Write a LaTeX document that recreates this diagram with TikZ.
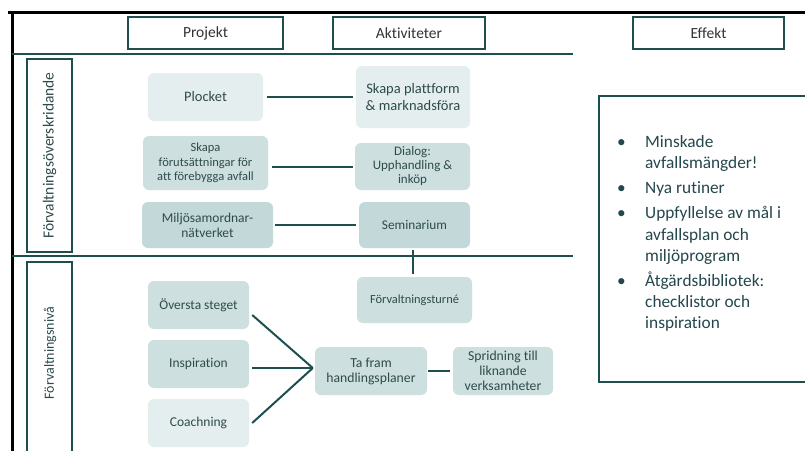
\documentclass[tikz,border=0pt]{standalone}
\usepackage{fontspec}
\setmainfont{Carlito}[Ligatures=NoCommon]
\usetikzlibrary{calc}
\definecolor{teal1}{HTML}{1F4E4F}
\definecolor{fillA}{HTML}{E4EEEE}
\definecolor{fillB}{HTML}{CDDFDF}
\definecolor{fillC}{HTML}{C3D8D8}
\definecolor{txt}{HTML}{2E4B4B}
\definecolor{efftxt}{HTML}{24474D}
\newcommand{\fs}[2]{\fontsize{#1}{#2}\selectfont}
\begin{document}
\begin{tikzpicture}[x=1pt,y=-1pt,
  box/.style={rounded corners=6pt, inner sep=2pt, align=center, text=txt},
  hdr/.style={draw=teal1, line width=1.8pt, fill=white, minimum height=32pt,
    align=center, text=black!80, font=\fs{15.5}{17}},
  conn/.style={draw=teal1, line width=2pt},
  blackframe/.style={draw=black, line width=3pt},
  tealline/.style={draw=teal1, line width=2pt},
  lbl/.style={draw=teal1, line width=1.8pt}
]
\useasboundingbox (0,0) rectangle (805,450);
\fill[white] (0,0) rectangle (805,450);

% frame lines
\coordinate (tl) at (12,12);
\coordinate (tr) at (805,12);
\coordinate (bl) at (12,452);
\draw[blackframe] (8,12) -- (tr);
\draw[blackframe] (tl) -- (bl);

% teal separators
\coordinate (s1a) at (12,54);
\coordinate (s1b) at (573,54);
\coordinate (s2a) at (12,256);
\coordinate (s2b) at (573,256);
\draw[tealline] (s1a) -- (s1b);
\draw[tealline] (s2a) -- (s2b);

% headers
\node[hdr, minimum width=155pt] (hproj) at (205.5,33) {Projekt};
\node[hdr, minimum width=152pt] (hakt) at (409,33) {Aktiviteter};
\node[hdr, minimum width=151pt] (heff) at (708.5,33) {Effekt};

% left label boxes
\node[lbl, minimum width=45pt, minimum height=193pt, inner sep=0pt] (lup) at (49.5,155.5) {};
\node[rotate=90, text=txt, font=\fs{15.5}{17}] (lupt) at (lup.center) {Förvaltningsöverskridande};
\draw[lbl] (27,470) -- (27,262) -- (72,262) -- (72,470);
\node[rotate=90, text=txt, font=\fs{14}{16}] (llowt) at (50,353) {Förvaltningsnivå};

% upper boxes
\node[box, fill=fillA, minimum width=115pt, minimum height=48pt, font=\fs{14.5}{17}] (plocket) at (205.5,97) {Plocket};
\node[box, fill=fillA, minimum width=114pt, minimum height=62pt, font=\fs{14.5}{17.5}] (plattform) at (413,97) {Skapa plattform\\\& marknadsföra};
\node[box, fill=fillB, minimum width=125pt, minimum height=54pt, font=\fs{12.5}{14.5}] (skapa) at (205.5,163) {Skapa\\förutsättningar för\\att förebygga avfall};
\node[box, fill=fillB, minimum width=115pt, minimum height=47pt, font=\fs{13}{14}] (dialog) at (412.5,166.5) {Dialog:\\Upphandling \&\\inköp};
\node[box, fill=fillC, minimum width=131pt, minimum height=46pt, font=\fs{13.5}{15}] (miljo) at (207.5,225) {Miljösamordnar-\\nätverket};
\node[box, fill=fillC, minimum width=111pt, minimum height=46pt, font=\fs{13.3}{15}] (semi) at (414.5,225) {Seminarium};

% lower boxes
\node[box, fill=fillB, minimum width=115pt, minimum height=46pt, font=\fs{12.4}{14}] (turne) at (414.5,300) {Förvaltningsturné};
\node[box, fill=fillB, minimum width=101pt, minimum height=48pt, font=\fs{13.4}{15}] (over) at (198.5,305) {Översta steget};
\node[box, fill=fillB, minimum width=101pt, minimum height=48pt, font=\fs{13.5}{15}] (insp) at (198.5,364) {Inspiration};
\node[box, fill=fillA, minimum width=101pt, minimum height=48pt, font=\fs{13.5}{15}] (coach) at (198.5,423) {Coachning};
\node[box, fill=fillB, minimum width=112pt, minimum height=48pt, font=\fs{13.7}{15}] (tafram) at (371,371) {Ta fram\\handlingsplaner};
\node[box, fill=fillB, minimum width=100pt, minimum height=48pt, font=\fs{13.7}{15}] (sprid) at (503,371) {Spridning till\\liknande\\verksamheter};

% connectors
\draw[conn, shorten <=4pt, shorten >=3pt] (plocket.east) -- (plattform.west);
\draw[conn, shorten <=4pt, shorten >=2pt] (skapa.east |- dialog.west) -- (dialog.west);
\draw[conn, shorten <=2pt, shorten >=3pt] (miljo.east) -- (semi.west);
\draw[conn] ($(semi.south)+(-1.5,2)$) -- ($(turne.north)+(-1.5,-3)$);
\coordinate (fan) at ($(tafram.west)+(-2,-3)$);
\draw[conn] ($(over.east)+(3,10)$) -- (fan);
\draw[conn] ($(insp.east)+(3,4)$) -- (fan);
\draw[conn] ($(coach.east)+(3,0)$) -- (fan);
\draw[conn, shorten <=1pt, shorten >=3pt] (tafram.east) -- (sprid.west);

% effect box
\draw[lbl] (820,96) -- (599,96) -- (599,382) -- (820,382);
\node[anchor=north west, text=efftxt, align=left, inner sep=0pt,
  font=\fs{17.3}{21.2}] (eff) at (617,135) {%
  \makebox[28pt][l]{\textbullet}Minskade\\
  \makebox[28pt][l]{}avfallsmängder!\\[4pt]
  \makebox[28pt][l]{\textbullet}Nya rutiner\\[4pt]
  \makebox[28pt][l]{\textbullet}Uppfyllelse av mål i\\
  \makebox[28pt][l]{}avfallsplan och\\
  \makebox[28pt][l]{}miljöprogram\\[4pt]
  \makebox[28pt][l]{\textbullet}Åtgärdsbibliotek:\\
  \makebox[28pt][l]{}checklistor och\\
  \makebox[28pt][l]{}inspiration};
\end{tikzpicture}
\end{document}
